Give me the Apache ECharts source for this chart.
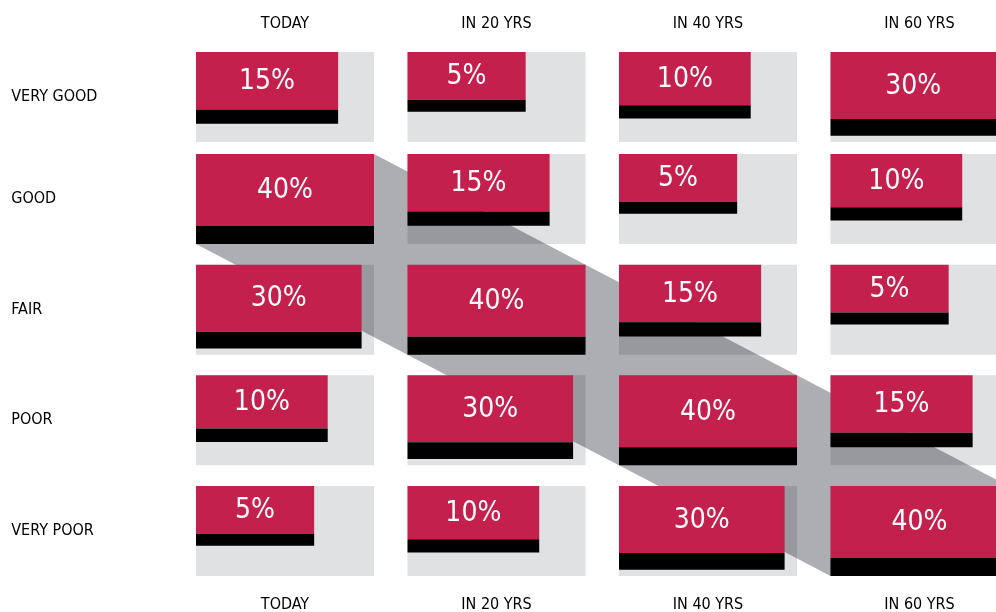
<!DOCTYPE html>
<html>
<head>
<meta charset="utf-8">
<script src="https://cdn.jsdelivr.net/npm/echarts@6/dist/echarts.min.js"></script>
<style>
  html, body { margin: 0; padding: 0; background: #fff; }
  #main { width: 996px; height: 612px; }
</style>
</head>
<body>
<div id="main"></div>
<script>
// rows (condition) and columns (time)
var rows = ['VERY GOOD', 'GOOD', 'FAIR', 'POOR', 'VERY POOR'];
var cols = ['TODAY', 'IN 20 YRS', 'IN 40 YRS', 'IN 60 YRS'];

// share of each condition, one list per column, top row first
var today = [15, 40, 30, 10, 5];
var in20Yrs = [5, 15, 40, 30, 10];
var in40Yrs = [10, 5, 15, 40, 30];
var in60Yrs = [30, 10, 5, 15, 40];

var colValues = [today, in20Yrs, in40Yrs, in60Yrs];
var maxValue = 40;

var FONT = '"DejaVu Sans Condensed", "Liberation Sans Narrow", sans-serif';
var RED = '#c4204e';
var CELL_W = 178 / 211.5; // part of the column band used by a cell
var CELL_H = 90 / 110.67; // part of the row band used by a cell

// bar side as part of the cell side
function sizeRatio(v) {
	return 0.48 + 0.52 * Math.sqrt(v / maxValue);
}

// build cell data: first row in grid 0, the others in grid 1
var cells0 = [];
var cells1 = [];
var bandCells = [];
for(var c = 0; c < cols.length; c++) {
	var best = 1;
	for(var r = 0; r < rows.length; r++) {
		var v = colValues[c][r];
		if(r == 0) {
			cells0.push([c, 0, v]);
		} else {
			cells1.push([c, r - 1, v]);
			if(v > colValues[c][best]) best = r;
		}
	}
	bandCells.push([c, best - 1]);
}

function cellRect(api, x, y) {
	var p = api.coord([x, y]);
	var s = api.size([1, 1]);
	var w = s[0] * CELL_W;
	var h = s[1] * CELL_H;
	return { x: p[0] - w / 2, y: p[1] - h / 2, width: w, height: h };
}

function renderBg(params, api) {
	return {
		type: 'rect',
		shape: cellRect(api, api.value(0), api.value(1)),
		style: { fill: '#e0e1e3' }
	};
}

function renderBar(params, api) {
	var cell = cellRect(api, api.value(0), api.value(1));
	var v = api.value(2);
	var k = sizeRatio(v);
	var bw = cell.width * k;
	var bh = cell.height * k;
	var redH = bh * 0.8;
	return {
		type: 'group',
		children: [{
			type: 'rect',
			shape: { x: cell.x, y: cell.y, width: bw, height: redH },
			style: { fill: RED }
		}, {
			type: 'rect',
			shape: { x: cell.x, y: cell.y + redH, width: bw, height: bh - redH },
			style: { fill: '#000' }
		}, {
			type: 'text',
			style: {
				text: v + '%',
				x: cell.x + bw / 2,
				y: cell.y + redH / 2 + 1,
				fill: '#fff',
				font: '28px ' + FONT,
				align: 'center',
				verticalAlign: 'middle'
			}
		}]
	};
}

// gray band joining the biggest cell of each column
function renderBand(params, api) {
	if(params.dataIndex != 0) return null;
	var rects = [];
	for(var i = 0; i < bandCells.length; i++) {
		rects.push(cellRect(api, bandCells[i][0], bandCells[i][1]));
	}
	var pts = [[rects[0].x, rects[0].y]];
	for(var i = 0; i < rects.length; i++) {
		pts.push([rects[i].x + rects[i].width, rects[i].y]);
	}
	var last = rects[rects.length - 1];
	pts.push([last.x + last.width, last.y + last.height]);
	for(var i = rects.length - 1; i >= 0; i--) {
		pts.push([rects[i].x, rects[i].y + rects[i].height]);
	}
	return {
		type: 'polygon',
		shape: { points: pts },
		style: { fill: 'rgba(0,2,14,0.32)' } // darkens the cells it passes over
	};
}

var labelStyle = {
	color: '#000',
	fontSize: 16,
	fontFamily: FONT
};

function xAxis(grid, pos) {
	return {
		type: 'category',
		gridIndex: grid,
		position: pos,
		data: cols,
		axisLine: { show: false },
		axisTick: { show: false },
		splitLine: { show: false },
		axisLabel: Object.assign({ margin: pos == 'top' ? 18 : 19, verticalAlign: 'middle', interval: 0 }, labelStyle)
	};
}

function yAxis(grid, data) {
	return {
		type: 'category',
		gridIndex: grid,
		inverse: true,
		data: data,
		axisLine: { show: false },
		axisTick: { show: false },
		splitLine: { show: false },
		axisLabel: Object.assign({ margin: 168, align: 'left', interval: 0 }, labelStyle)
	};
}

var myChart = echarts.init(document.getElementById('main'), null, { renderer: 'canvas' });
var option = {
	animation: false,
	backgroundColor: '#fff',
	grid: [
		{ left: 179.25, width: 846, top: 41.67, height: 110.67, outerBoundsMode: 'none', containLabel: false },
		{ left: 179.25, width: 846, top: 143.67, height: 442.67, outerBoundsMode: 'none', containLabel: false }
	],
	xAxis: [xAxis(0, 'top'), xAxis(1, 'bottom')],
	yAxis: [yAxis(0, [rows[0]]), yAxis(1, rows.slice(1))],
	series: [{
		type: 'custom', xAxisIndex: 0, yAxisIndex: 0, z: 1,
		renderItem: renderBg, data: cells0
	}, {
		type: 'custom', xAxisIndex: 1, yAxisIndex: 1, z: 1,
		renderItem: renderBg, data: cells1
	}, {
		type: 'custom', xAxisIndex: 1, yAxisIndex: 1, z: 2,
		renderItem: renderBand, data: bandCells, silent: true
	}, {
		type: 'custom', xAxisIndex: 0, yAxisIndex: 0, z: 3,
		renderItem: renderBar, data: cells0
	}, {
		type: 'custom', xAxisIndex: 1, yAxisIndex: 1, z: 3,
		renderItem: renderBar, data: cells1
	}]
};
myChart.setOption(option);
</script>
</body>
</html>
